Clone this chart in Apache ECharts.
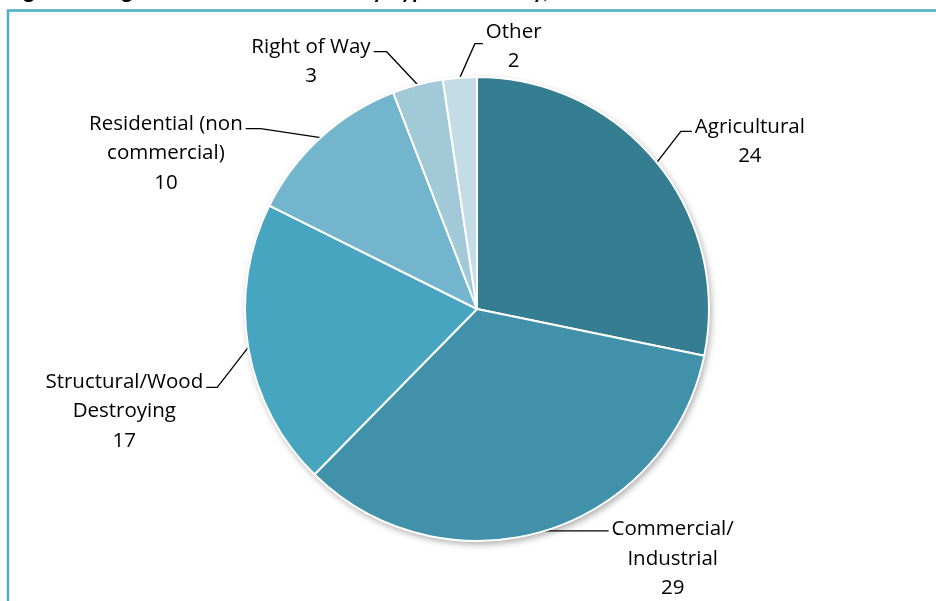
<!DOCTYPE html>
<html><head><meta charset="utf-8">
<script src="https://cdn.jsdelivr.net/npm/echarts@6/dist/echarts.min.js"></script>
<style>html,body{margin:0;padding:0;background:#fff}#c{width:936px;height:601px}</style>
</head><body><div id="c"></div>
<script>
// ---- data ----
const categories = ['Agricultural', 'Commercial/\nIndustrial', 'Structural/Wood\nDestroying', 'Residential (non\ncommercial)', 'Right of Way', 'Other'];
const values = [24, 29, 17, 10, 3, 2];
const titleText = 'Figure 9: Registered Pesticide Users by Type of Activity, 2012';

// ---- styles ----
const sliceColors = ['#357D91', '#4191AA', '#47A5BF', '#72B5CC', '#A2C9D8', '#C3DCE5'];
// leader geometry per label: [bendDx, bendDy, horizontalLen, side(+1 right/-1 left), textShiftY]
const leaderStyle = [
  [24, -31, 11, 1, 10],
  [2, 0, 62, 1, 28],
  [-31, 40, 11, -1, 24],
  [-60, -9, 15, -1, 25],
  [-31, -33, 13, -1, 10],
  [15, -34, 8, 1, 3]
];
const FONT = '"Open Sans", Lato, sans-serif';

const chart = echarts.init(document.getElementById('c'), null, {renderer: 'canvas'});
const total = values.reduce((a, b) => a + b, 0);

chart.setOption({
  animation: false,
  backgroundColor: '#ffffff',
  graphic: [
    {
      type: 'rect', silent: true, z: 0,
      shape: {x: 8, y: 10.5, width: 1000, height: 700},
      style: {fill: 'none', stroke: '#4BACC6', lineWidth: 2.5}
    },
    {
      type: 'text', silent: true, z: 1,
      x: 5, y: -9,
      style: {text: titleText, font: 'bold 22px Lato, sans-serif', fill: '#000', verticalAlign: 'middle', align: 'left'}
    }
  ],
  series: [
    {
      type: 'pie', silent: true, z: 1,
      center: [477, 309], radius: 232,
      label: {show: false}, labelLine: {show: false},
      itemStyle: {color: '#ffffff', shadowBlur: 7, shadowOffsetX: 2, shadowOffsetY: 3, shadowColor: 'rgba(0,0,0,0.35)'},
      data: [{value: total, name: 'all'}]
    },
    {
      type: 'pie', z: 2,
      center: [477, 309], radius: 232,
      startAngle: 90, clockwise: true,
      avoidLabelOverlap: false,
      itemStyle: {borderColor: '#ffffff', borderWidth: 2},
      label: {
        show: true, position: 'outside', color: '#000',
        formatter: function (p) {
          return p.name.split('\n').map(s => '{t|' + s + '}').join('\n') + '\n{t|' + p.value + '}';
        },
        rich: {t: {align: 'center', fontSize: 20.5, lineHeight: 29.5, fontFamily: FONT, color: '#000'}}
      },
      labelLine: {show: true, length: 20, length2: 10, lineStyle: {color: '#000', width: 1.3}},
      labelLayout: function (params) {
        const L = leaderStyle[params.dataIndex];
        const p0 = params.labelLinePoints[0];
        const bx = p0[0] + L[0], by = p0[1] + L[1];
        const ex = bx + L[3] * L[2];
        return {
          x: ex + L[3] * 3,
          y: by + L[4],
          align: L[3] > 0 ? 'left' : 'right',
          verticalAlign: 'middle',
          labelLinePoints: [p0, [bx, by], [ex, by]]
        };
      },
      data: categories.map((c, i) => ({name: c, value: values[i], itemStyle: {color: sliceColors[i]}}))
    }
  ]
});
</script>
</body></html>
